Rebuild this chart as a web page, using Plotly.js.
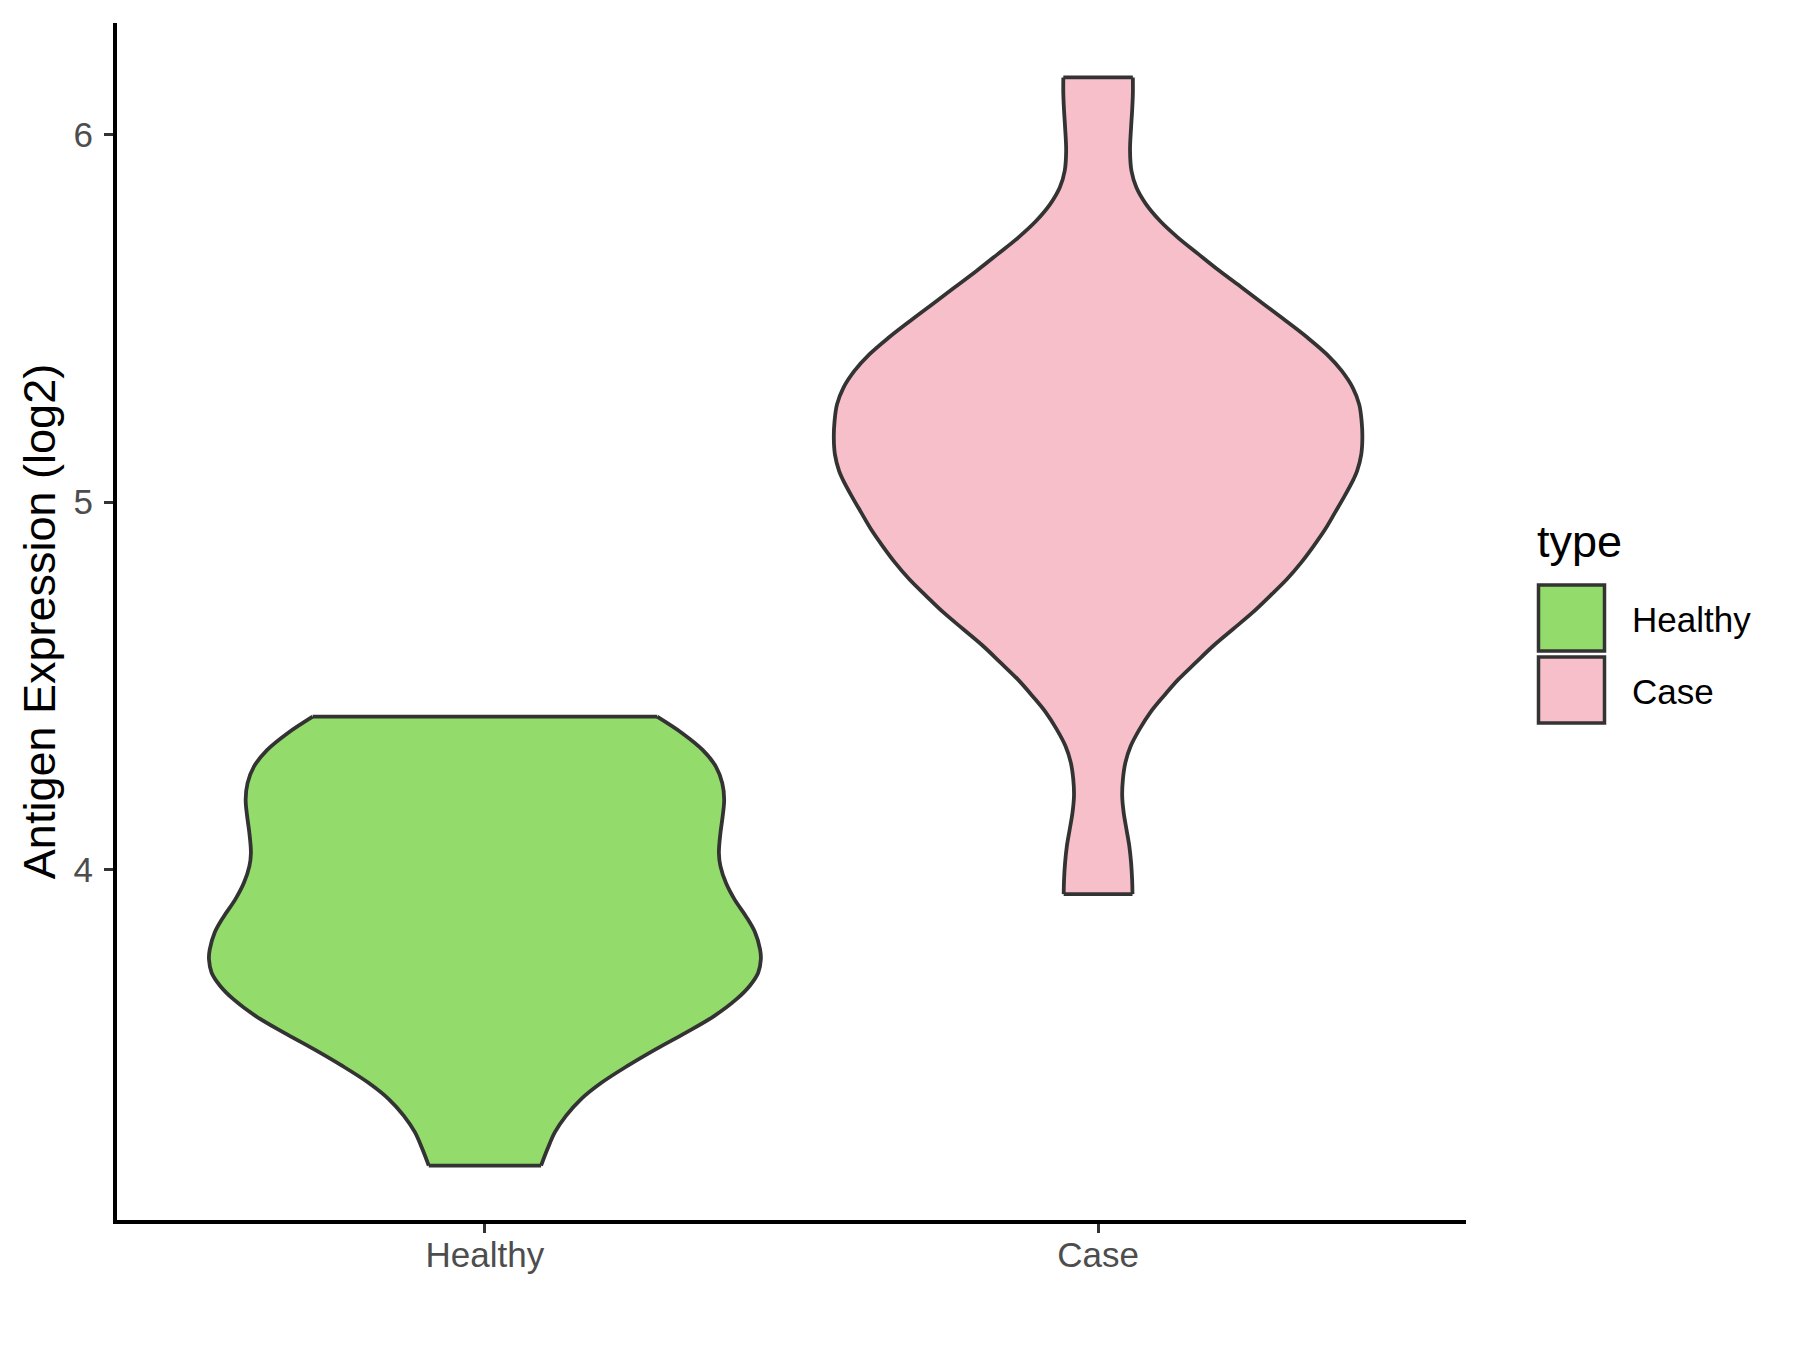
<!DOCTYPE html>
<html>
<head>
<meta charset="utf-8">
<script src="https://cdn.plot.ly/plotly-3.0.1.min.js"></script>
<style>html,body{margin:0;padding:0;background:#fff;}#chart{width:1800px;height:1350px;}</style>
</head>
<body>
<div id="chart"></div>
<script>
// ---- data ----
const categories = ['Healthy', 'Case'];
const categoryPos = [1, 2];
const fillColors = ['#93DB6A', '#F7BFCA'];

// Healthy violin: expression levels (log2) and half-widths (x units) of the density outline
const healthyLevels = [3.194, 3.239, 3.285, 3.330, 3.375, 3.420, 3.466, 3.511, 3.556, 3.601, 3.647, 3.683, 3.719, 3.755, 3.782, 3.828, 3.873, 3.918, 3.963, 4.009, 4.045, 4.099, 4.144, 4.190, 4.235, 4.280, 4.325, 4.371, 4.416];
const healthyHalfWidth = [0.0916, 0.1020, 0.1142, 0.1325, 0.1569, 0.1905, 0.2332, 0.2790, 0.3279, 0.3737, 0.4103, 0.4317, 0.4457, 0.4500, 0.4488, 0.4408, 0.4256, 0.4073, 0.3932, 0.3841, 0.3816, 0.3841, 0.3877, 0.3902, 0.3871, 0.3767, 0.3554, 0.3218, 0.2809];

// Case violin
const caseLevels = [3.933, 3.973, 4.019, 4.064, 4.109, 4.155, 4.200, 4.246, 4.291, 4.336, 4.382, 4.427, 4.472, 4.518, 4.563, 4.609, 4.654, 4.699, 4.745, 4.790, 4.836, 4.881, 4.926, 4.972, 5.017, 5.062, 5.084, 5.130, 5.175, 5.220, 5.266, 5.311, 5.357, 5.402, 5.448, 5.493, 5.538, 5.584, 5.629, 5.675, 5.720, 5.765, 5.811, 5.856, 5.902, 5.956, 6.020, 6.065, 6.111, 6.156];
const caseHalfWidth = [0.0561, 0.0555, 0.0538, 0.0509, 0.0463, 0.0417, 0.0393, 0.0405, 0.0445, 0.0532, 0.0677, 0.0850, 0.1070, 0.1313, 0.1591, 0.1880, 0.2198, 0.2517, 0.2806, 0.3078, 0.3315, 0.3517, 0.3703, 0.3865, 0.4021, 0.4165, 0.4223, 0.4292, 0.4310, 0.4298, 0.4258, 0.4154, 0.3974, 0.3731, 0.3413, 0.3066, 0.2708, 0.2343, 0.1984, 0.1637, 0.1302, 0.1012, 0.0781, 0.0625, 0.0544, 0.0521, 0.0538, 0.0555, 0.0567, 0.0567];

const yTickVals = [4, 5, 6];
const yTickText = ['4', '5', '6'];
const yTitle = 'Antigen Expression (log2)';
const legendTitle = 'type';

const OUTLINE = {color: '#333333', width: 3.8};
const groups = [[healthyLevels, healthyHalfWidth], [caseLevels, caseHalfWidth]];
const traces = [];
groups.forEach((g, i) => {
  const c = categoryPos[i], lv = g[0], hw = g[1], n = lv.length;
  const left = lv.map((v, k) => c - hw[k]);
  const right = lv.map((v, k) => c + hw[k]);
  // filled body (no outline)
  traces.push({type: 'scatter', mode: 'lines', name: categories[i],
    x: left.concat(right.slice().reverse(), [left[0]]),
    y: lv.concat(lv.slice().reverse(), [lv[0]]),
    fill: 'toself', fillcolor: fillColors[i], line: {width: 0},
    showlegend: false, hoverinfo: 'skip'});
  // smooth sides
  traces.push({type: 'scatter', mode: 'lines', x: left, y: lv, line: Object.assign({shape: 'spline', smoothing: 1}, OUTLINE), showlegend: false, hoverinfo: 'skip'});
  traces.push({type: 'scatter', mode: 'lines', x: right, y: lv, line: Object.assign({shape: 'spline', smoothing: 1}, OUTLINE), showlegend: false, hoverinfo: 'skip'});
  // flat ends at the data min and max
  traces.push({type: 'scatter', mode: 'lines', x: [left[0], right[0], null, left[n - 1], right[n - 1]],
    y: [lv[0], lv[0], null, lv[n - 1], lv[n - 1]], line: OUTLINE, showlegend: false, hoverinfo: 'skip'});
});

// y range: data span with 5% expansion
const allY = healthyLevels.concat(caseLevels);
const yMin = Math.min(...allY), yMax = Math.max(...allY), span = yMax - yMin;

// ---- layout geometry ----
const W = 1800, H = 1350;
const L = 117, R = 1466, T = 23, B = 1220;
const px2x = p => (p - L) / (R - L);
const py2y = p => 1 - (p - T) / (B - T);
const FONT = 'Liberation Sans, Arial, Helvetica, sans-serif';

const shapes = [], annotations = [];
annotations.push({xref: 'paper', yref: 'paper', x: px2x(1535), y: py2y(541), xanchor: 'left', yanchor: 'middle',
  text: legendTitle, showarrow: false, font: {family: FONT, size: 45, color: '#000'}});
const keyTop = [585, 657];
categories.forEach((c, i) => {
  shapes.push({type: 'rect', xref: 'paper', yref: 'paper', x0: px2x(1538.5), x1: px2x(1604.5),
    y0: py2y(keyTop[i]), y1: py2y(keyTop[i] + 66), fillcolor: fillColors[i], line: {color: '#333333', width: 3.5}});
  annotations.push({xref: 'paper', yref: 'paper', x: px2x(1630), y: py2y(keyTop[i] + 34), xanchor: 'left', yanchor: 'middle',
    text: c, showarrow: false, font: {family: FONT, size: 35, color: '#000'}});
});

const layout = {
  width: W, height: H,
  margin: {l: L, r: W - R, t: T, b: H - B, pad: 0},
  paper_bgcolor: '#fff', plot_bgcolor: '#fff',
  font: {family: FONT},
  xaxis: {
    range: [0.4, 2.6], tickvals: categoryPos, ticktext: categories,
    showgrid: false, zeroline: false, showline: true, linecolor: '#000', linewidth: 4,
    ticks: 'outside', ticklen: 9, tickwidth: 3, tickcolor: '#333333', ticklabelstandoff: -8,
    tickfont: {family: FONT, size: 35, color: '#4D4D4D'}, fixedrange: true
  },
  yaxis: {
    range: [yMin - 0.05 * span, yMax + 0.05 * span], tickvals: yTickVals, ticktext: yTickText,
    showgrid: false, zeroline: false, showline: true, linecolor: '#000', linewidth: 4,
    ticks: 'outside', ticklen: 9, tickwidth: 3, tickcolor: '#333333', ticklabelstandoff: 4,
    tickfont: {family: FONT, size: 35, color: '#4D4D4D'},
    title: {text: yTitle, font: {family: FONT, size: 45, color: '#000'}, standoff: 5}, fixedrange: true
  },
  shapes: shapes, annotations: annotations, showlegend: false
};

Plotly.newPlot('chart', traces, layout, {displayModeBar: false, staticPlot: true});
</script>
</body>
</html>
